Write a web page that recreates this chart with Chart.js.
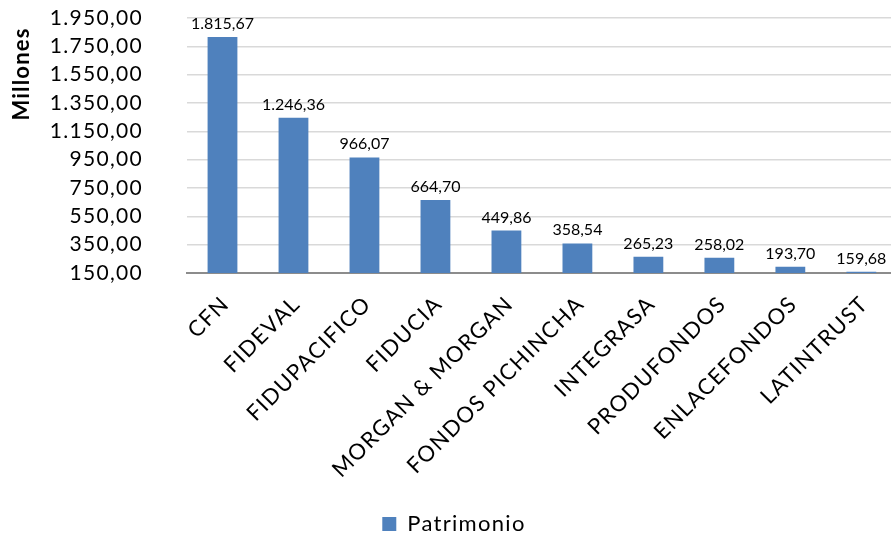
<!DOCTYPE html>
<html>
<head>
<meta charset="utf-8">
<script src="https://cdn.jsdelivr.net/npm/chart.js@4.4.1/dist/chart.umd.min.js"></script>
<style>
  html, body { margin: 0; padding: 0; overflow: hidden; background: #fff; }
  #wrap { width: 898px; height: 545px; }
</style>
</head>
<body>
<div id="wrap"><canvas id="c"></canvas></div>
<script>
const categories = ["CFN", "FIDEVAL", "FIDUPACIFICO", "FIDUCIA", "MORGAN & MORGAN", "FONDOS PICHINCHA", "INTEGRASA", "PRODUFONDOS", "ENLACEFONDOS", "LATINTRUST"];
const patrimonio = [1815.67, 1246.36, 966.07, 664.70, 449.86, 358.54, 265.23, 258.02, 193.70, 159.68];
const seriesName = "Patrimonio";
const yMin = 150, yMax = 1950, yStep = 200;
const yTitle = "Millones";

function fmt(v) {
  const parts = v.toFixed(2).split(".");
  parts[0] = parts[0].replace(/\B(?=(\d{3})+(?!\d))/g, ".");
  return parts[0] + "," + parts[1];
}

const FONT = "Lato, 'Open Sans', sans-serif";
const SPACING = '1.3px';

const spacingPlugin = {
  id: 'spacingPlugin',
  beforeUpdate(chart) { chart.ctx.letterSpacing = SPACING; },
  beforeLayout(chart) { chart.ctx.letterSpacing = SPACING; },
  beforeDraw(chart) { chart.ctx.letterSpacing = SPACING; }
};

const dataLabels = {
  id: 'dataLabels',
  afterDatasetsDraw(chart) {
    const ctx = chart.ctx;
    const meta = chart.getDatasetMeta(0);
    ctx.save();
    ctx.letterSpacing = '0px';
    ctx.font = "16px " + FONT;
    ctx.fillStyle = "#000";
    ctx.textAlign = "center";
    ctx.textBaseline = "alphabetic";
    meta.data.forEach((bar, i) => {
      ctx.fillText(fmt(chart.data.datasets[0].data[i]), bar.x, bar.y - 8);
    });
    ctx.restore();
  }
};

const yTitlePlugin = {
  id: 'yTitlePlugin',
  afterDraw(chart) {
    const ctx = chart.ctx;
    ctx.save();
    ctx.letterSpacing = '1.2px';
    ctx.translate(22, 74);
    ctx.rotate(-Math.PI / 2);
    ctx.font = "bold 22px " + FONT;
    ctx.fillStyle = "#000";
    ctx.textAlign = "center";
    ctx.textBaseline = "middle";
    ctx.fillText(yTitle, 0, 0);
    ctx.restore();
  }
};

new Chart(document.getElementById('c'), {
  type: 'bar',
  data: {
    labels: categories,
    datasets: [{
      label: seriesName,
      data: patrimonio,
      backgroundColor: '#4F81BD',
      borderWidth: 0,
      categoryPercentage: 1.0,
      barPercentage: 0.42
    }]
  },
  options: {
    responsive: true,
    maintainAspectRatio: false,
    animation: false,
    layout: { padding: { left: 10, right: 0, top: 18, bottom: 0 } },
    plugins: {
      legend: {
        position: 'bottom',
        labels: {
          font: { family: FONT, size: 22 },
          color: '#000',
          boxWidth: 14,
          boxHeight: 14,
          padding: 0
        }
      },
      tooltip: { enabled: false }
    },
    scales: {
      x: {
        afterFit(scale) { scale.height = 240; },
        grid: { display: false, drawTicks: false },
        border: { color: '#8C8C8C', width: 2 },
        ticks: {
          font: { family: FONT, size: 22 },
          color: '#000',
          minRotation: 45,
          maxRotation: 45,
          padding: 18,
          labelOffset: 3,
          autoSkip: false
        }
      },
      y: {
        min: yMin,
        max: yMax,
        afterFit(scale) { scale.width = 177; },
        grid: { color: '#D9D9D9', lineWidth: 1.5, drawTicks: true, tickLength: 40, tickColor: 'rgba(0,0,0,0)' },
        border: { display: false },
        ticks: {
          stepSize: yStep,
          autoSkip: false,
          font: { family: FONT, size: 21 },
          color: '#000',
          padding: 4,
          callback: v => fmt(v)
        }
      }
    }
  },
  plugins: [spacingPlugin, dataLabels, yTitlePlugin]
});
</script>
</body>
</html>
